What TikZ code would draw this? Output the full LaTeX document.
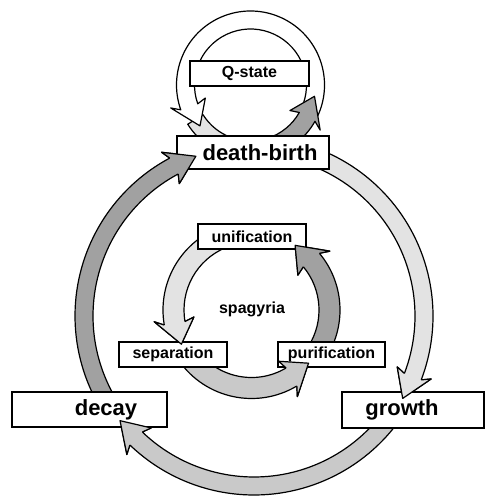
\documentclass[tikz,border=0pt]{standalone}
\usepackage{fontspec}
\setmainfont{Liberation Sans}
\usetikzlibrary{calc}

\definecolor{darkarc}{gray}{0.63}
\definecolor{midarc}{gray}{0.79}
\definecolor{lightarc}{gray}{0.89}

\tikzset{
  bigbox/.style={draw, fill=white, line width=1.6pt, inner sep=0pt, font=\bfseries\fontsize{22}{24}\selectfont},
  smallbox/.style={draw, fill=white, line width=1.4pt, inner sep=0pt, font=\bfseries\fontsize{16}{18}\selectfont},
  ringedge/.style={draw=black, line width=1.2pt, line join=round},
}

% radius, start angle, end angle
\newcommand{\ringcalc}[3]{%
  \pgfmathsetmacro\rsg{(#3>#2) ? 1 : -1}%
  \pgfmathsetmacro\rba{#3-(\rsg)*\rhl/(#1)*180/pi}%
  \pgfmathsetmacro\rbb{\rba-(\rsg)*\rbk/(#1)*180/pi}%
  \pgfmathsetmacro\rgo{#1+\rw}%
  \pgfmathsetmacro\rgi{#1-\rw}%
  \pgfmathsetmacro\rgho{#1+\rhw}%
  \pgfmathsetmacro\rghi{#1-\rhw}}

\newcommand{\ringarrow}[5][]{\ringcalc{#3}{#4}{#5}%
  \path[ringedge, #1, shift={(#2)}] (#4:\rgo) arc[start angle=#4, end angle=\rba, radius=\rgo]
    -- (\rbb:\rgho) -- (#5:#3) -- (\rbb:\rghi) -- (\rba:\rgi)
    arc[start angle=\rba, end angle=#4, radius=\rgi] -- cycle;}

\newcommand{\ringtip}[5][]{\ringcalc{#3}{#4}{#5}%
  \path[ringedge, #1, shift={(#2)}] (\rba:\rgo) -- (\rbb:\rgho) -- (#5:#3) -- (\rbb:\rghi) -- (\rba:\rgi);}

\begin{document}
\begin{tikzpicture}[x=1pt, y=1pt]
    \useasboundingbox (0,0) rectangle (486,-497);

    \coordinate (outer) at (254,-316);
    \coordinate (inner) at (251.5,-310);
    \coordinate (loop) at (250.5,-85);

    % big cycle
    \def\rw{9}\def\rhw{18}\def\rhl{24}\def\rbk{4}
    \ringarrow[fill=darkarc]{outer}{170}{215}{110}
    \ringarrow[fill=lightarc]{outer}{170}{70}{-29}
    \ringarrow[fill=midarc]{outer}{170}{-35}{-142}

    % spagyria cycle
    \def\rw{10.5}\def\rhw{20}\def\rhl{22}
    \ringarrow[fill=lightarc]{inner}{78}{112}{206}
    \ringarrow[fill=midarc]{inner}{78}{215}{317}
    \ringarrow[fill=darkarc]{inner}{78}{-32}{56}

    % loop over death-birth
    \def\rw{9}\def\rhw{18}\def\rhl{22}
    \path[ringedge, fill=lightarc, shift={(loop)}] (212:74) arc[start angle=212, end angle=250, radius=74]
        -- (250:56) arc[start angle=250, end angle=212, radius=56] -- cycle;
    \ringarrow[fill=white]{loop}{65}{-25}{219}
    \ringarrow[fill=darkarc]{loop}{65}{-72}{-10}

    \node[smallbox, minimum width=119pt, minimum height=25pt] (qstate) at (249.5,-73.5) {Q-state};
    \node[bigbox, minimum width=152pt, minimum height=33pt] (deathbirth) at (253,-152.5) {\hspace*{14pt}death-birth};
    \node[smallbox, minimum width=108pt, minimum height=25pt] (unification) at (252,-236.5) {unification};
    \node[smallbox, minimum width=108pt, minimum height=25pt] (separation) at (173,-354.5) {separation};
    \node[smallbox, minimum width=107pt, minimum height=25pt] (purification) at (331.5,-354.5) {purification};
    \node[bigbox, minimum width=155pt, minimum height=35pt] (decay) at (89.5,-409.5) {\hspace*{33pt}decay};
    \node[bigbox, minimum width=142pt, minimum height=36pt] (growth) at (413,-410) {growth\hspace*{22pt}};
    \node[font=\bfseries\fontsize{16}{18}\selectfont] (spagyria) at (252,-309) {spagyria};

    % heads lie over the boxes
    \def\rw{9}\def\rhw{18}\def\rhl{24}
    \ringtip[fill=darkarc]{outer}{170}{215}{110}
    \ringtip[fill=lightarc]{outer}{170}{70}{-29}
    \ringtip[fill=midarc]{outer}{170}{-35}{-142}
    \def\rw{10.5}\def\rhw{20}\def\rhl{22}
    \ringtip[fill=lightarc]{inner}{78}{112}{206}
    \ringtip[fill=midarc]{inner}{78}{215}{317}
    \ringtip[fill=darkarc]{inner}{78}{-32}{56}

\end{tikzpicture}
\end{document}
